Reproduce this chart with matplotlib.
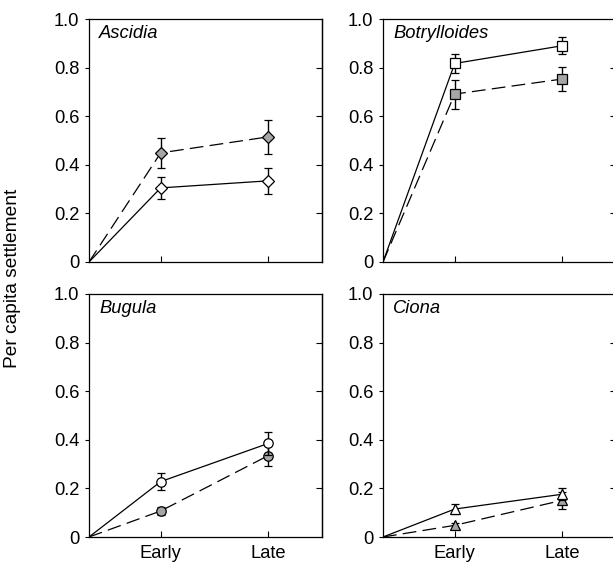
import matplotlib
matplotlib.use("Agg")
import matplotlib.pyplot as plt
from matplotlib.ticker import FuncFormatter

plt.rcParams["font.family"] = ["Liberation Sans", "DejaVu Sans"]

# x positions: origin, Early, Late
x_pos = [0, 2, 5]
x_labels = ["Early", "Late"]

taxa = ["Ascidia", "Botrylloides", "Bugula", "Ciona"]
markers = ["D", "s", "o", "^"]

# open symbols, solid line
open_mean = [[0.305, 0.334], [0.817, 0.890], [0.228, 0.385], [0.115, 0.176]]
open_err = [[0.044, 0.053], [0.040, 0.034], [0.036, 0.046], [0.020, 0.025]]
# grey symbols, dashed line
grey_mean = [[0.449, 0.515], [0.691, 0.753], [0.107, 0.335], [0.048, 0.151]]
grey_err = [[0.063, 0.070], [0.060, 0.048], [0.015, 0.044], [0.010, 0.034]]

W, H = 613, 566
fig = plt.figure(figsize=(W / 100, H / 100), dpi=100)

lefts = [89, 383, 89, 383]
tops = [19, 19, 294, 294]
aw, ah = 233, 243
FS = 13.2


def yfmt(v, pos):
    return "0" if abs(v) < 1e-9 else f"{v:.1f}"


for i, name in enumerate(taxa):
    ax = fig.add_axes([lefts[i] / W, 1 - (tops[i] + ah) / H, aw / W, ah / H])
    mk = markers[i]
    ms = {"D": 6.2, "s": 6.6, "o": 6.8, "^": 7.0}[mk]

    ax.plot([x_pos[0]] + x_pos[1:], [0] + grey_mean[i], color="black",
            lw=0.9, dashes=(11, 5), zorder=2)
    ax.errorbar(x_pos[1:], grey_mean[i], yerr=grey_err[i], fmt=mk, ms=ms,
                mfc="#a6a6a6", mec="black", mew=0.9, ecolor="black",
                elinewidth=1, capsize=3, capthick=1, zorder=3)

    ax.plot([x_pos[0]] + x_pos[1:], [0] + open_mean[i], color="black",
            lw=0.9, zorder=4)
    ax.errorbar(x_pos[1:], open_mean[i], yerr=open_err[i], fmt=mk, ms=ms,
                mfc="white", mec="black", mew=0.9, ecolor="black",
                elinewidth=1, capsize=3, capthick=1, zorder=5)

    ax.set_xlim(0, 6.5)
    ax.set_ylim(0, 1.0)
    ax.set_yticks([0, 0.2, 0.4, 0.6, 0.8, 1.0])
    ax.yaxis.set_major_formatter(FuncFormatter(yfmt))
    ax.set_xticks(x_pos[1:])
    if i >= 2:
        ax.set_xticklabels(x_labels)
    else:
        ax.set_xticklabels([])
    ax.tick_params(axis="y", direction="out", length=3, width=0.8,
                   labelsize=FS, pad=4)
    ax.tick_params(axis="x", direction="in", length=4, width=0.8,
                   labelsize=FS, pad=6)
    sec = ax.secondary_yaxis("right")
    sec.set_yticks([0.2, 0.4, 0.6, 0.8])
    sec.tick_params(direction="in", length=4, width=0.8, labelright=False)
    for s in ax.spines.values():
        s.set_linewidth(0.9)
    sec.spines["right"].set_linewidth(0.9)

    ax.text(0.043, 0.94, name, transform=ax.transAxes, style="italic",
            fontsize=FS, va="center", ha="left")

fig.text(13 / W, 1 - 278 / H, "Per capita settlement", rotation=90,
         fontsize=13.8, ha="center", va="center")

fig.savefig("out.png", dpi=100)
